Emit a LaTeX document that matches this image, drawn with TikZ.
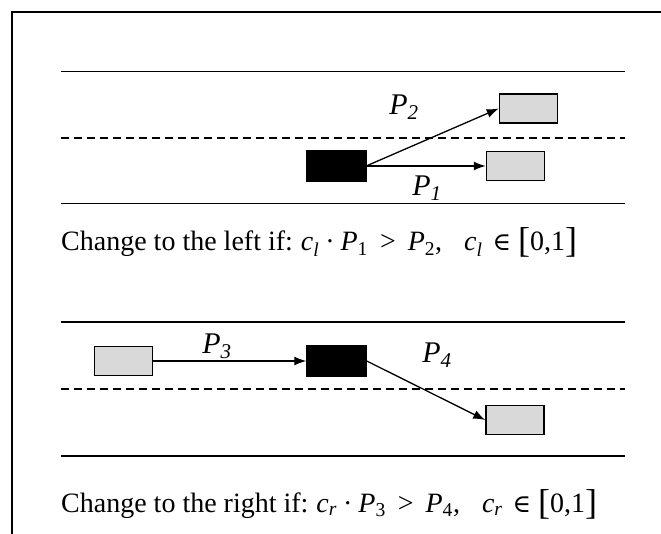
\documentclass[tikz,border=0pt]{standalone}
\usepackage{fontspec}
\setmainfont{Liberation Serif}
\newfontfamily\symfont{DejaVu Serif}
\usetikzlibrary{arrows.meta}
\definecolor{CarGray}{HTML}{D9D9D9}
% condition written as text: #1 = c index, #2/#3 = P indices
\newcommand{\condvar}[2]{\textit{#1}\textsubscript{#2}}
\newcommand{\bigbr}[1]{{\fontsize{36}{36}\selectfont\raisebox{-2pt}{#1}}}
\newcommand{\condtext}[3]{{\fontsize{28}{32}\selectfont
  \condvar{c}{\textit{#1}}\hspace{6pt}·\hspace{6pt}\condvar{P}{#2}\hspace{12pt}>\hspace{12pt}\condvar{P}{#3},\hspace{22pt}%
  \condvar{c}{\textit{#1}}\hspace{10pt}{\symfont\fontsize{25}{28}\selectfont∈}\hspace{7pt}\bigbr{[}0,1\bigbr{]}}}

\begin{document}
\begin{tikzpicture}[x=1pt,y=-1pt, every node/.style={font=\fontsize{28}{32}\selectfont}]
\tikzstyle{ego}=[draw,fill=black,minimum width=60pt,minimum height=31pt,inner sep=0pt]
\tikzstyle{other}=[draw,line width=1.5pt,fill=CarGray,minimum width=58pt,minimum height=29pt,inner sep=0pt]
\tikzstyle{lane}=[line width=1.6pt]
\tikzstyle{move}=[-{Latex[length=12pt,width=9pt]},line width=1.3pt]
\tikzstyle{lbl}=[font=\fontsize{30}{34}\selectfont\itshape,inner sep=0pt]
\useasboundingbox (0,0) rectangle (661,534);
% frame
\draw[line width=2pt] (12,534) -- (12,12) -- (661,12);
% road, left change
\draw[lane] (61,71.5) -- (625,71.5);
\draw[lane,dash pattern=on 8pt off 5pt] (61,138) -- (625,138);
\draw[lane] (61,203.5) -- (625,203.5);
\node[ego] (egoL) at (336,166) {};
\node[other] (leftcar) at (528.5,108.5) {};
\node[other] (frontL) at (515.5,166) {};
\draw[move] (egoL.east) -- (frontL.west);
\draw[move] (egoL.east) -- (leftcar.west);
\node[lbl] (p2) at (404,107) {P\textsubscript{2}};
\node[lbl] (p1) at (427,188) {P\textsubscript{1}};
\node[anchor=base west,inner sep=0pt] (condL) at (61,251)
  {Change to the left if:\hspace{8pt}\condtext{l}{1}{2}};
% road, right change
\draw[lane] (61,322) -- (625,322);
\draw[lane,dash pattern=on 8pt off 5pt] (61,389) -- (625,389);
\draw[lane] (61,456) -- (625,456);
\node[other] (rearR) at (123.5,361) {};
\node[ego] (egoR) at (336.5,361) {};
\node[other] (rightcar) at (515,420) {};
\draw[move] (rearR.east) -- (egoR.west);
\draw[move] (egoR.east) -- (rightcar.west);
\node[lbl] (p3) at (217,346) {P\textsubscript{3}};
\node[lbl] (p4) at (437,355) {P\textsubscript{4}};
\node[anchor=base west,inner sep=0pt] (condR) at (61,512)
  {Change to the right if:\hspace{8pt}\condtext{r}{3}{4}};
\end{tikzpicture}
\end{document}
